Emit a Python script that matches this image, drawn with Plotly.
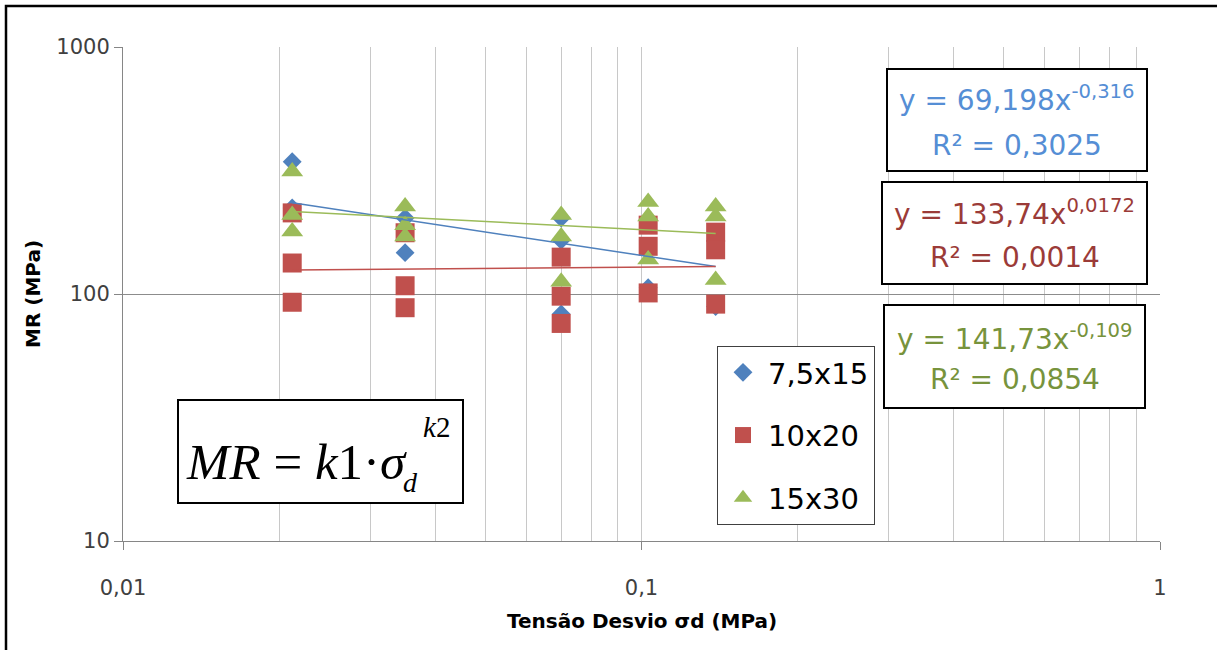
import numpy as np
import plotly.graph_objects as go

# ---- data: deviator stress (MPa) vs resilient modulus (MPa) per specimen size ----
series_names = ["7,5x15", "10x20", "15x30"]

x_7_5x15 = [0.0212, 0.0212, 0.035, 0.035, 0.07, 0.07, 0.07, 0.103, 0.139]
y_7_5x15 = [343, 223, 203, 147, 203, 165, 83, 106, 89]

x_10x20 = [0.0212, 0.0212, 0.0212, 0.035, 0.035, 0.035, 0.07, 0.07, 0.07,
           0.103, 0.103, 0.103, 0.139, 0.139, 0.139]
y_10x20 = [213, 133.5, 92.6, 177, 108, 88, 141, 98, 76, 190, 156, 101, 178, 151, 91]

x_15x30 = [0.0212, 0.0212, 0.0212, 0.035, 0.035, 0.035, 0.07, 0.07, 0.07,
           0.103, 0.103, 0.103, 0.139, 0.139, 0.139]
y_15x30 = [313, 209, 179, 226, 190, 171, 209, 171, 112, 236, 206, 138, 226, 206, 114]

# power-law fits  y = a * x^b  and their R²
fit_a = [69.198, 133.74, 141.73]
fit_b = [-0.316, 0.0172, -0.109]
fit_r2 = [0.3025, 0.0014, 0.0854]

# axis ticks
x_tickvals = [0.01, 0.1, 1]
x_ticktext = ["0,01", "0,1", "1"]
y_tickvals = [10, 100, 1000]
y_ticktext = ["10", "100", "1000"]

# ---- styling ----
marker_colors = ["#4F81BD", "#C0504D", "#9BBB59"]
text_colors = ["#558ED5", "#9B3B38", "#77933C"]
symbols = ["diamond", "square", "triangle-up"]
marker_sizes = [14.5, 19, 19]

W, H = 1217, 650
L, R, T, B = 123, 1160, 47, 541


def px(xp):
    return (xp - L) / (R - L)


def py(yp):
    return (B - yp) / (B - T)


def dec(v):
    return str(v).replace(".", ",")


xs = [x_7_5x15, x_10x20, x_15x30]
ys = [y_7_5x15, y_10x20, y_15x30]

fig = go.Figure()

for i in range(3):
    fig.add_trace(go.Scatter(
        x=xs[i], y=ys[i], mode="markers", name=series_names[i],
        legendgroup=series_names[i],
        marker=dict(symbol=symbols[i], size=marker_sizes[i], color=marker_colors[i],
                    line=dict(width=0)),
    ))

# trend lines from the fitted equations, over each series' x range
for i in range(3):
    xt = np.geomspace(min(xs[i]), max(xs[i]), 50)
    yt = fit_a[i] * xt ** fit_b[i]
    fig.add_trace(go.Scatter(
        x=xt, y=yt, mode="lines", showlegend=False, hoverinfo="skip",
        line=dict(color=marker_colors[i], width=1.5),
    ))

minor_x = [d * 10.0 ** e for e in (-2, -1) for d in range(2, 10)]

fig.update_xaxes(
    type="log", range=[-2, 0],
    tickmode="array", tickvals=x_tickvals, ticktext=x_ticktext,
    ticks="outside", ticklen=8, tickcolor="#868686", tickwidth=1,
    ticklabelstandoff=20,
    showgrid=True, gridcolor="#C8C8C8", gridwidth=1,
    minor=dict(tickmode="array", tickvals=minor_x, showgrid=True,
               gridcolor="#C8C8C8", gridwidth=1, ticks=""),
    showline=True, linecolor="#868686", linewidth=1,
    zeroline=False, mirror=False,
    tickfont=dict(family="DejaVu Sans", size=21, color="#404040"),
)
fig.update_yaxes(
    type="log", range=[1, 3],
    tickmode="array", tickvals=y_tickvals, ticktext=y_ticktext,
    ticks="outside", ticklen=8, tickcolor="#868686", tickwidth=1,
    showgrid=True, gridcolor="#8C8C8C", gridwidth=1,
    showline=True, linecolor="#868686", linewidth=1,
    zeroline=False,
    tickfont=dict(family="DejaVu Sans", size=21, color="#404040"),
)

shapes = [
    # outer frame
    dict(type="rect", xref="paper", yref="paper",
         x0=px(6), x1=px(1240), y0=py(6), y1=py(670),
         line=dict(color="black", width=2.5), fillcolor="rgba(0,0,0,0)", layer="above"),
    # formula box
    dict(type="rect", xref="paper", yref="paper",
         x0=px(178), x1=px(463), y0=py(400), y1=py(503),
         line=dict(color="black", width=2), fillcolor="white", layer="above"),
]

# equation boxes
boxes = [(887, 1147, 69, 171), (882, 1147, 182, 284), (884, 1145, 305, 408)]
line1_y = [98, 213, 337]
line2_y = [145, 257, 379]

annotations = []
for i in range(3):
    x0, x1, y0, y1 = boxes[i]
    shapes.append(dict(type="rect", xref="paper", yref="paper",
                       x0=px(x0), x1=px(x1), y0=py(y0), y1=py(y1),
                       line=dict(color="black", width=2), fillcolor="white",
                       layer="above"))
    cx = (x0 + x1) / 2
    annotations.append(dict(
        xref="paper", yref="paper", x=px(cx), y=py(line1_y[i]),
        xanchor="center", yanchor="middle", showarrow=False,
        text=f"y = {dec(fit_a[i])}x<sup>{dec(fit_b[i])}</sup>",
        font=dict(family="DejaVu Sans", size=28, color=text_colors[i]),
    ))
    annotations.append(dict(
        xref="paper", yref="paper", x=px(cx), y=py(line2_y[i]),
        xanchor="center", yanchor="middle", showarrow=False,
        text=f"R² = {dec(fit_r2[i])}",
        font=dict(family="DejaVu Sans", size=28, color=text_colors[i]),
    ))

# model formula MR = k1 · σd^k2
serif = "Liberation Serif"
annotations += [
    dict(xref="paper", yref="paper", x=px(184), y=py(462), xanchor="left", yanchor="middle",
         showarrow=False, text="<i>MR</i> = <i>k</i>1·<i>σ</i>",
         font=dict(family=serif, size=51, color="black")),
    dict(xref="paper", yref="paper", x=px(401), y=py(482), xanchor="left", yanchor="middle",
         showarrow=False, text="<i>d</i>", font=dict(family=serif, size=28, color="black")),
    dict(xref="paper", yref="paper", x=px(421), y=py(427), xanchor="left", yanchor="middle",
         showarrow=False, text="<i>k</i>2", font=dict(family=serif, size=29, color="black")),
]

# axis titles
annotations += [
    dict(xref="paper", yref="paper", x=px(33), y=py(294), xanchor="center", yanchor="middle",
         showarrow=False, textangle=-90, text="<b>MR (MPa)</b>",
         font=dict(family="DejaVu Sans", size=20, color="black")),
    dict(xref="paper", yref="paper", x=px(642), y=py(621), xanchor="center", yanchor="middle",
         showarrow=False, text="<b>Tensão Desvio σd (MPa)</b>",
         font=dict(family="DejaVu Sans", size=20, color="black")),
]

fig.update_layout(
    width=W, height=H,
    margin=dict(l=L, r=W - R, t=T, b=H - B, pad=0),
    paper_bgcolor="white", plot_bgcolor="white",
    shapes=shapes, annotations=annotations,
    legend=dict(
        x=px(717), y=py(346), xanchor="left", yanchor="top",
        bgcolor="white", bordercolor="#404040", borderwidth=1,
        font=dict(family="DejaVu Sans", size=29, color="black"),
        tracegroupgap=22, itemsizing="trace", itemwidth=40,
    ),
)

fig.write_html("out.html")
